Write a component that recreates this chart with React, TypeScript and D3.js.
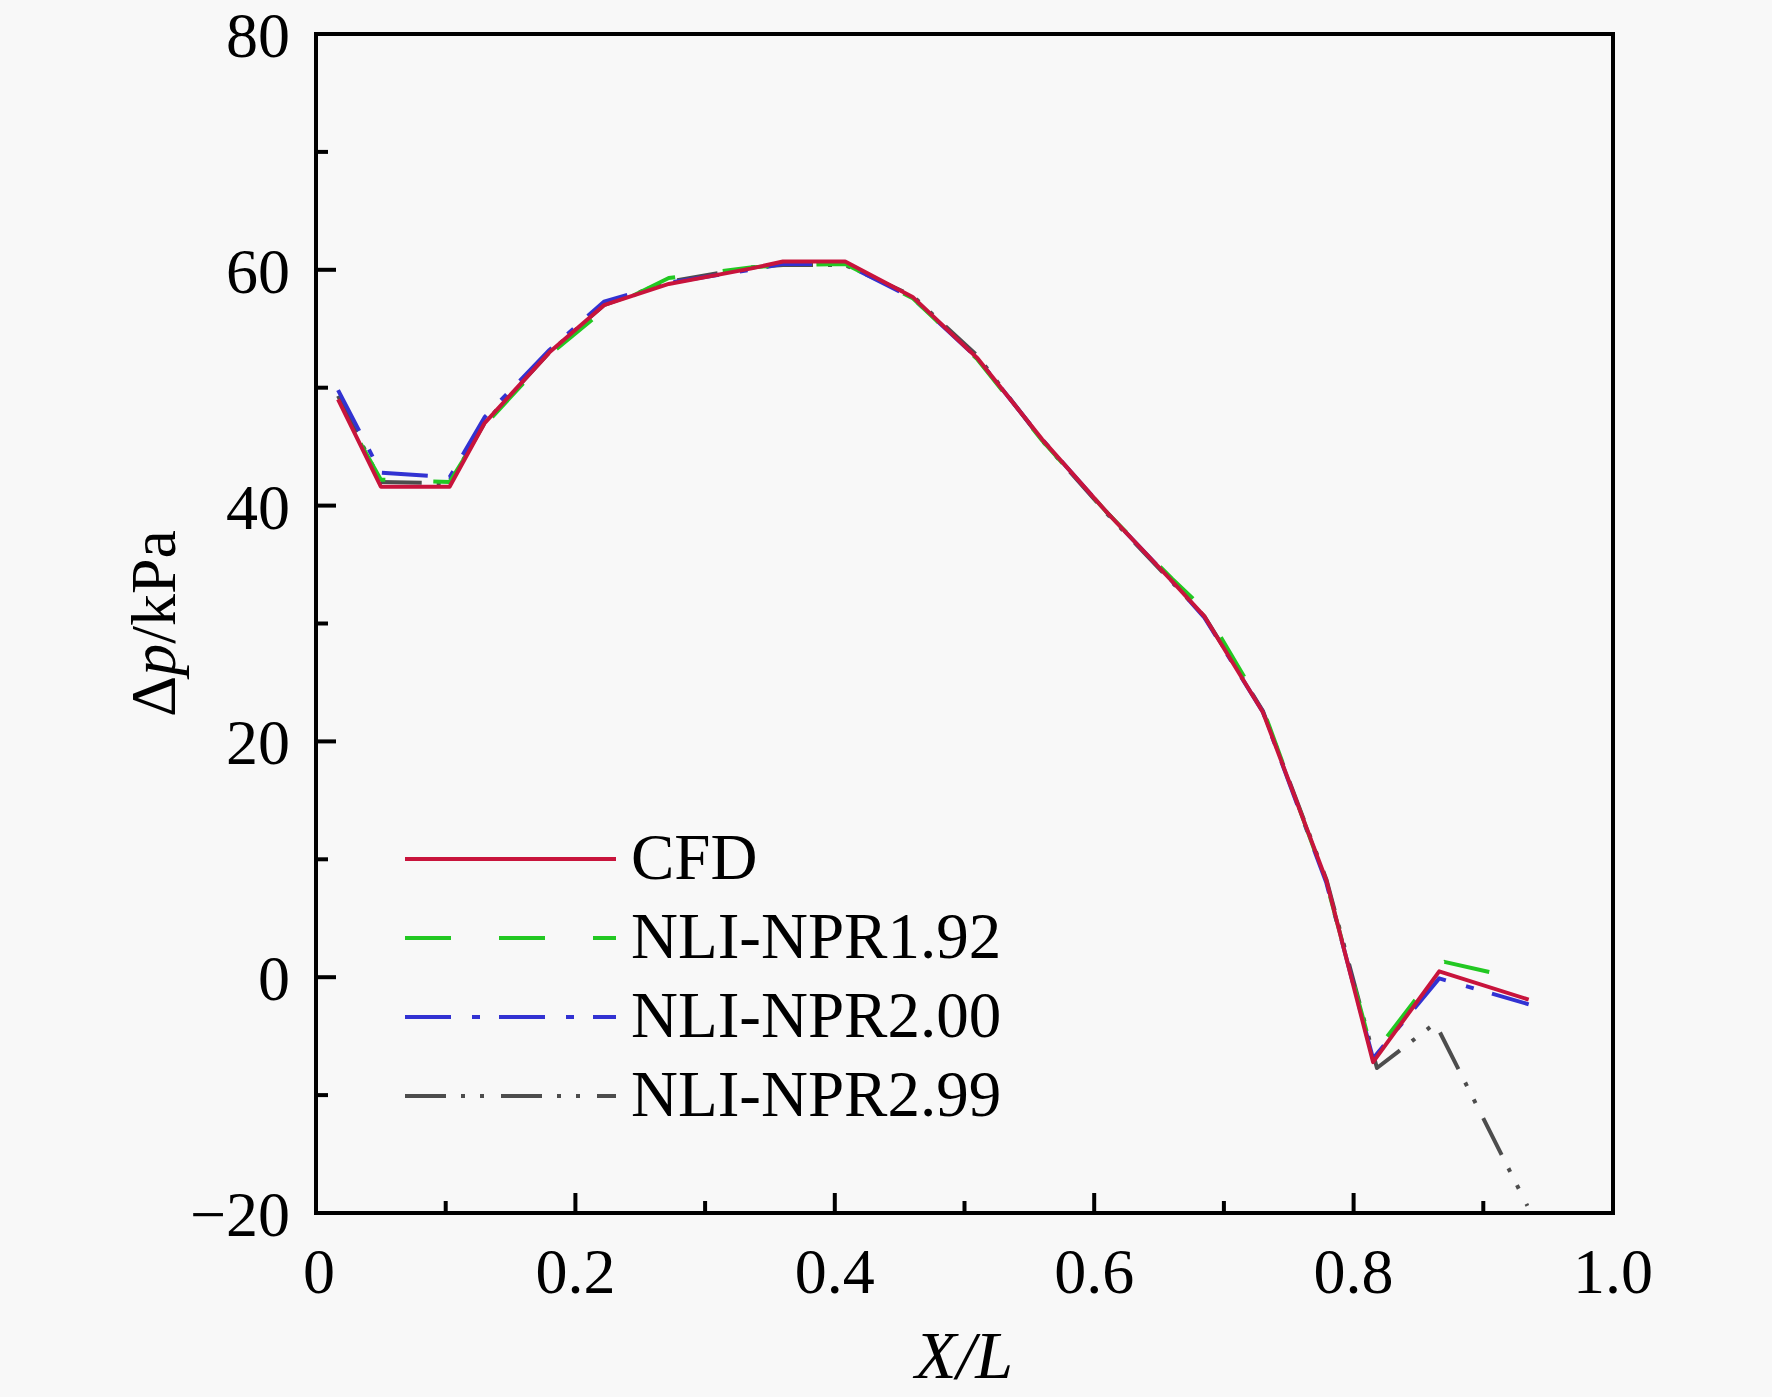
import React from 'react';
import * as d3 from 'd3';

// Pressure difference along the body
const cfd: [number, number][] = [
  [0.017, 49.0], [0.05, 41.6], [0.103, 41.6], [0.13, 47.0], [0.18, 53.0],
  [0.222, 57.0], [0.272, 58.8], [0.335, 60.1], [0.36, 60.7], [0.408, 60.7],
  [0.46, 57.7], [0.51, 52.5], [0.56, 45.6], [0.61, 39.4], [0.66, 33.6],
  [0.685, 30.6], [0.73, 22.5], [0.779, 8.2], [0.815, -7.2], [0.866, 0.5],
  [0.935, -1.9],
];

const npr192: [number, number][] = [
  [0.017, 48.7], [0.05, 42.2], [0.103, 42.0], [0.13, 46.8], [0.18, 52.8],
  [0.222, 56.6], [0.272, 59.3], [0.335, 60.2], [0.36, 60.4], [0.408, 60.5],
  [0.46, 57.6], [0.51, 52.4], [0.56, 45.5], [0.61, 39.4], [0.66, 33.8],
  [0.685, 31.2], [0.73, 22.8], [0.779, 8.0], [0.815, -6.6], [0.87, 1.3],
  [0.91, 0.3],
];

const npr200: [number, number][] = [
  [0.017, 49.8], [0.05, 42.8], [0.103, 42.4], [0.13, 47.5], [0.18, 53.2],
  [0.222, 57.3], [0.272, 58.9], [0.335, 60.0], [0.36, 60.5], [0.408, 60.5],
  [0.46, 57.6], [0.51, 52.5], [0.56, 45.6], [0.61, 39.4], [0.66, 33.6],
  [0.685, 30.5], [0.73, 22.5], [0.779, 8.0], [0.815, -6.9], [0.866, -0.1],
  [0.935, -2.3],
];

const npr299: [number, number][] = [
  [0.017, 49.3], [0.05, 42.0], [0.103, 41.9], [0.13, 47.0], [0.18, 53.0],
  [0.222, 57.0], [0.272, 59.0], [0.335, 60.2], [0.36, 60.4], [0.408, 60.4],
  [0.46, 57.8], [0.51, 52.7], [0.56, 45.5], [0.61, 39.3], [0.66, 33.5],
  [0.685, 30.6], [0.73, 22.6], [0.779, 8.3], [0.818, -7.7], [0.863, -3.9],
  [0.934, -19.4],
];

const xMajor = [0, 0.2, 0.4, 0.6, 0.8, 1.0];
const xMinor = [0.1, 0.3, 0.5, 0.7, 0.9];
const xLabels = ['0', '0.2', '0.4', '0.6', '0.8', '1.0'];
const yMajor = [80, 60, 40, 20, 0, -20];
const yMinor = [70, 50, 30, 10, -10];
const yLabels = ['80', '60', '40', '20', '0', '\u221220'];

const seriesNames = ['CFD', 'NLI-NPR1.92', 'NLI-NPR2.00', 'NLI-NPR2.99'];

const W = 1772;
const H = 1397;
const margin = { left: 316, right: 1613, top: 34, bottom: 1213 };
const font = '"Liberation Serif", "Times New Roman", serif';

const App: React.FC = () => {
  const x = d3.scaleLinear().domain([0, 1]).range([margin.left, margin.right]);
  const y = d3.scaleLinear().domain([-20, 80]).range([margin.bottom, margin.top]);

  const line = d3
    .line<[number, number]>()
    .x(d => x(d[0]))
    .y(d => y(d[1]));

  // on-screen length of a polyline up to point index n
  const lengthTo = (pts: [number, number][], n: number) => {
    let s = 0;
    for (let i = 1; i <= n; i++) {
      s += Math.hypot(x(pts[i][0]) - x(pts[i - 1][0]), y(pts[i][1]) - y(pts[i - 1][1]));
    }
    return s;
  };
  // make a green dash start at the right-hand peak, as in the original
  const greenOffset = -(lengthTo(npr192, 19) % 94);

  const styles = [
    { data: cfd, color: '#c8143c', dash: 'none', offset: 0 },
    { data: npr192, color: '#22c822', dash: '46,48', offset: greenOffset },
    { data: npr200, color: '#3232d2', dash: '46,21,8,19', offset: 0 },
    { data: npr299, color: '#4d4d4d', dash: '41,15,4,15,4,17', offset: 0 },
  ];

  // draw order: gray first, CFD on top
  const drawOrder = [3, 2, 1, 0];

  return (
    <div style={{ position: 'absolute', left: 0, top: 0 }}>
      <svg width={W} height={H} style={{ display: 'block' }}>
        <rect x={0} y={0} width={W} height={H} fill="#f8f8f8" />

        {drawOrder.map(i => (
          <path
            key={seriesNames[i]}
            d={line(styles[i].data) || ''}
            fill="none"
            stroke={styles[i].color}
            strokeWidth={4}
            strokeDasharray={styles[i].dash}
            strokeDashoffset={styles[i].offset}
            strokeLinejoin="round"
          />
        ))}

        {/* frame */}
        <rect
          x={margin.left}
          y={margin.top}
          width={margin.right - margin.left}
          height={margin.bottom - margin.top}
          fill="none"
          stroke="#000"
          strokeWidth={4}
        />

        {/* x ticks */}
        {xMajor.map(t => (
          <line key={'xM' + t} x1={x(t)} x2={x(t)} y1={margin.bottom} y2={margin.bottom - 20} stroke="#000" strokeWidth={4} />
        ))}
        {xMinor.map(t => (
          <line key={'xm' + t} x1={x(t)} x2={x(t)} y1={margin.bottom} y2={margin.bottom - 12} stroke="#000" strokeWidth={4} />
        ))}
        {xMajor.map((t, i) => (
          <text key={'xl' + t} x={x(t) + (i === 0 ? 3 : 0)} y={1293} textAnchor="middle" fontFamily={font} fontSize={64} fill="#000">
            {xLabels[i]}
          </text>
        ))}

        {/* y ticks */}
        {yMajor.map(t => (
          <line key={'yM' + t} x1={margin.left} x2={margin.left + 20} y1={y(t)} y2={y(t)} stroke="#000" strokeWidth={4} />
        ))}
        {yMinor.map(t => (
          <line key={'ym' + t} x1={margin.left} x2={margin.left + 12} y1={y(t)} y2={y(t)} stroke="#000" strokeWidth={4} />
        ))}
        {yMajor.map((t, i) => (
          <text key={'yl' + t} x={290} y={y(t) + 23} textAnchor="end" fontFamily={font} fontSize={64} fill="#000">
            {yLabels[i]}
          </text>
        ))}

        {/* axis titles */}
        <text x={964} y={1378} textAnchor="middle" fontFamily={font} fontSize={68} fontStyle="italic" fill="#000">
          X/L
        </text>
        <text
          transform={`translate(175, ${(margin.top + margin.bottom) / 2}) rotate(-90)`}
          textAnchor="middle"
          fontFamily={font}
          fontSize={64}
          fill="#000"
        >
          Δ<tspan fontStyle="italic">p</tspan>/kPa
        </text>

        {/* legend */}
        {styles.map((s, i) => {
          const ly = 859 + i * 79;
          return (
            <g key={'lg' + i}>
              <line x1={405} x2={616} y1={ly} y2={ly} stroke={s.color} strokeWidth={4} strokeDasharray={s.dash} />
              <text x={631} y={ly + 20} fontFamily={font} fontSize={65} fill="#000">
                {seriesNames[i]}
              </text>
            </g>
          );
        })}
      </svg>
    </div>
  );
};

export default App;
